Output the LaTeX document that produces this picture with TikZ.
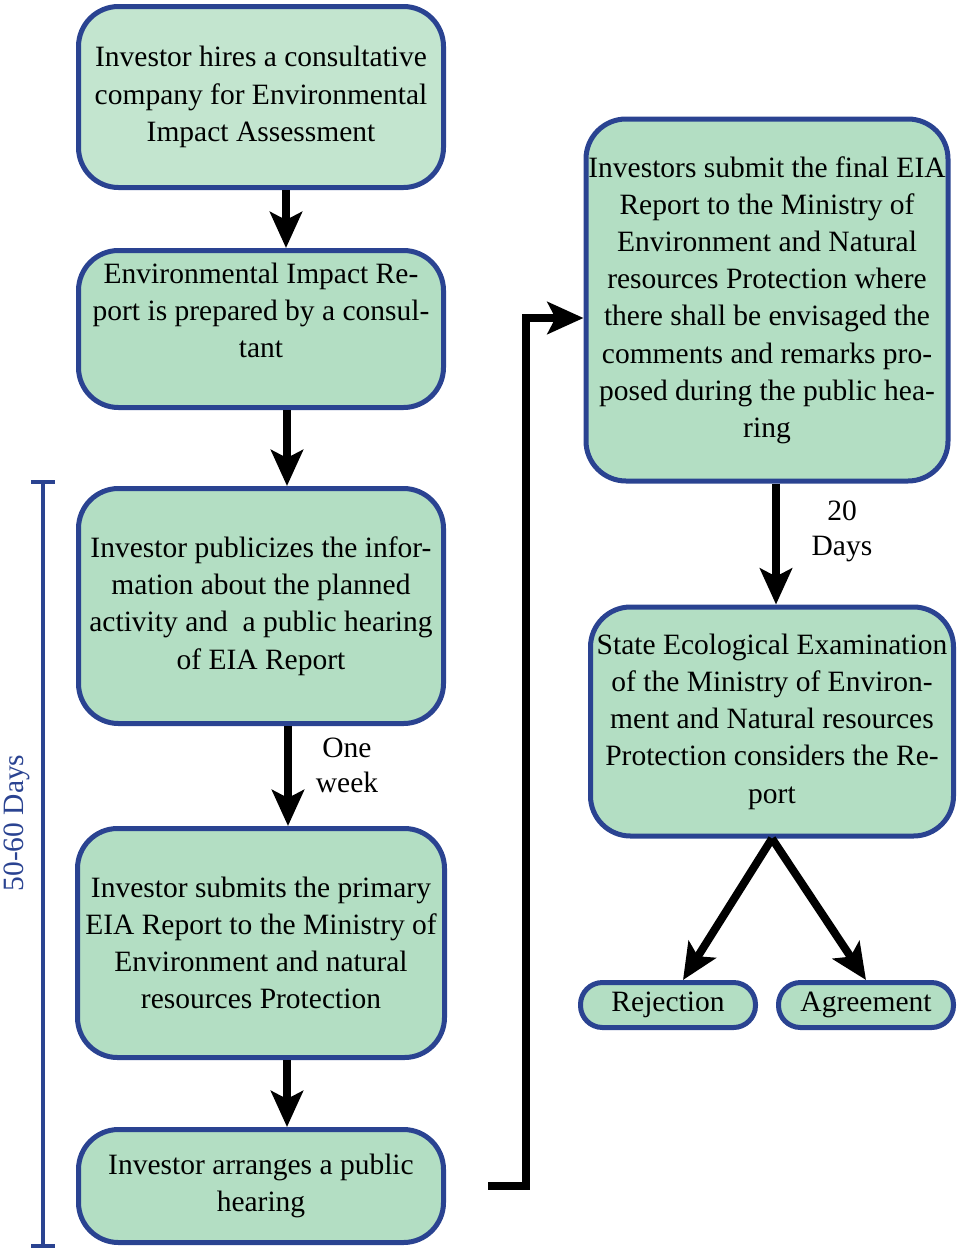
\documentclass[tikz,border=0pt]{standalone}
\usepackage{fontspec}
\setmainfont{Liberation Serif}
\usetikzlibrary{arrows.meta,positioning}
\definecolor{boxblue}{HTML}{2A4391}
\definecolor{boxgreen}{HTML}{B3DEC3}
\definecolor{boxlight}{HTML}{C3E5CF}
\tikzset{
  block/.style={rectangle, draw=boxblue, fill=boxgreen, line width=5pt, rounded corners=40pt, align=center, minimum width=365pt, inner sep=0pt, font=\fontsize{29.5}{37.2}\rmfamily\selectfont},
  smallblock/.style={block, minimum width=175pt, minimum height=45pt, rounded corners=22pt},
  line/.style={-{Stealth[length=36pt,width=32pt,inset=8pt]}, line width=8pt},
  note/.style={align=center, font=\fontsize{29.5}{35}\rmfamily\selectfont}
}

\begin{document}
\begin{tikzpicture}[x=1pt, y=-1pt]
  \useasboundingbox (0,0) rectangle (961,1248);
  % left column
  \node[block, fill=boxlight, minimum height=181pt] (hire) at (261,97) {Investor hires a consultative\\company for Environmental\\Impact Assessment};
  \node[block, minimum height=157pt, below=58pt of hire] (prepare) {Environmental Impact Re-\\port is prepared by a consul-\\tant\\\mbox{}};
  \node[block, minimum height=235pt, below=76pt of prepare] (publicize) {Investor publicizes the infor-\\mation about the planned\\activity and \ a public hearing\\of EIA Report};
  \node[block, minimum height=229pt, minimum width=367pt, below=100pt of publicize] (primary) {Investor submits the primary\\EIA Report to the Ministry of\\Environment and natural\\resources Protection};
  \node[block, minimum height=113pt, below=67pt of primary] (hearing) {Investor arranges a public\\hearing};
  % right column
  \node[block, minimum height=362pt, minimum width=362pt] (final) at (767,300) {Investors submit the final EIA\\Report to the Ministry of\\Environment and Natural\\resources Protection where\\there shall be envisaged the\\comments and remarks pro-\\posed during the public hea-\\ring};
  \node[block, minimum height=229pt, minimum width=363pt, below=121pt of final, xshift=5pt] (exam) {State Ecological Examination\\of the Ministry of Environ-\\ment and Natural resources\\Protection considers the Re-\\port};
  \node[smallblock] (reject) at (668,1005) {Rejection};
  \node[smallblock, right=18pt of reject] (agree) {Agreement};
  % labels
  \node[note] (oneweek) at (347,765) {One\\week};
  \node[note] (twenty) at (842,531) {20\\Days};
  \node[rotate=90, text=boxblue, font=\fontsize{29.5}{35}\rmfamily\selectfont] (days) at (17,823) {50-60 Days};
  % 50-60 days bracket
  \draw[boxblue, line width=4pt] (31,482) -- (55,482) (43,482) -- (43,1246) (31,1246) -- (55,1246);
  % arrows
  \draw[line] ([xshift=25pt]hire.south) -- ([xshift=25pt]prepare.north);
  \draw[line] ([xshift=26pt]prepare.south) -- ([xshift=26pt]publicize.north);
  \draw[line] ([xshift=27pt]publicize.south) -- ([xshift=27pt]primary.north -| publicize.south);
  \draw[line] ([xshift=26pt]primary.south) -- ([xshift=26pt]hearing.north -| primary.south);
  \draw[line] ([xshift=42pt]hearing.east) -| ([xshift=-58pt,yshift=-18pt]final.west) -- ([yshift=-18pt]final.west);
  \draw[line] ([xshift=9pt]final.south) -- ([xshift=4pt]exam.north);
  \draw[line] (exam.south) -- ([xshift=15pt]reject.north);
  \draw[line] (exam.south) -- (agree.north);
\end{tikzpicture}
\end{document}
